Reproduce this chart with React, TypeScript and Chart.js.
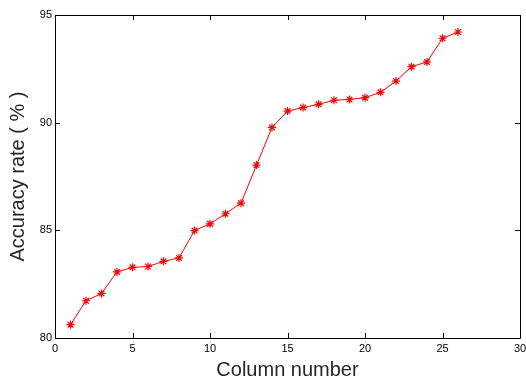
import React, { useEffect, useRef } from "react";
import { Chart, registerables } from "chart.js";

Chart.register(...registerables);

const columns = [1, 2, 3, 4, 5, 6, 7, 8, 9, 10, 11, 12, 13, 14, 15, 16, 17, 18, 19, 20, 21, 22, 23, 24, 25, 26];
const accuracy = [80.62, 81.73, 82.07, 83.07, 83.28, 83.32, 83.56, 83.72, 84.99, 85.3, 85.77, 86.26, 88.03, 89.78, 90.54, 90.7, 90.85, 91.04, 91.08, 91.16, 91.41, 91.93, 92.6, 92.82, 93.92, 94.21];
const xTicks = [0, 5, 10, 15, 20, 25, 30];
const yTicks = [80, 85, 90, 95];

const boxPlugin = {
  id: "boxTicks",
  afterDraw(chart: any) {
    const { ctx, chartArea } = chart;
    const { left, right, top, bottom } = chartArea;
    const xs = chart.scales.x;
    const ys = chart.scales.y;
    const len = 5;
    ctx.save();
    ctx.strokeStyle = "#000";
    ctx.lineWidth = 1;
    ctx.beginPath();
    ctx.rect(Math.round(left) + 0.5, Math.round(top) + 0.5, Math.round(right - left), Math.round(bottom - top));
    for (const v of xTicks) {
      const px = Math.round(xs.getPixelForValue(v)) + 0.5;
      ctx.moveTo(px, bottom);
      ctx.lineTo(px, bottom - len);
      ctx.moveTo(px, top);
      ctx.lineTo(px, top + len);
    }
    for (const v of yTicks) {
      const py = Math.round(ys.getPixelForValue(v)) + 0.5;
      ctx.moveTo(left, py);
      ctx.lineTo(left + len, py);
      ctx.moveTo(right, py);
      ctx.lineTo(right - len, py);
    }
    ctx.stroke();
    ctx.restore();
  },
};

export default function App() {
  const ref = useRef<HTMLCanvasElement | null>(null);
  useEffect(() => {
    if (!ref.current) return;
    const chart = new Chart(ref.current, {
      type: "scatter",
      data: {
        datasets: [
          {
            data: columns.map((c, i) => ({ x: c, y: accuracy[i] })),
            showLine: true,
            borderColor: "#ff0000",
            backgroundColor: "#ff0000",
            borderWidth: 1,
            pointStyle: "star",
            pointRadius: 4,
            pointBorderWidth: 1.2,
            pointBorderColor: "#ff0000",
          },
        ],
      },
      options: {
        animation: false,
        responsive: false,
        maintainAspectRatio: false,
        layout: { padding: { top: 15, right: 6, left: 0, bottom: 0 } },
        plugins: { legend: { display: false }, tooltip: { enabled: false } },
        scales: {
          x: {
            type: "linear",
            min: 0,
            max: 30,
            afterBuildTicks: (s: any) => { s.ticks = xTicks.map((v) => ({ value: v })); },
            grid: { display: false, drawTicks: false },
            border: { display: false },
            ticks: { color: "#000", font: { family: "Liberation Sans, Arial", size: 11 }, padding: 4, maxRotation: 0 },
            title: { display: true, text: "Column number", color: "#262626", font: { family: "Liberation Sans, Arial", size: 20, lineHeight: 1 }, padding: { top: 0, bottom: -1 } },
            afterFit: (s: any) => { s.height = 41; s.paddingLeft = 0; s.paddingRight = 0; },
          },
          y: {
            type: "linear",
            min: 80,
            max: 95,
            afterBuildTicks: (s: any) => { s.ticks = yTicks.map((v) => ({ value: v })); },
            grid: { display: false, drawTicks: false },
            border: { display: false },
            ticks: { color: "#000", font: { family: "Liberation Sans, Arial", size: 11 }, padding: 3 },
            title: { display: true, text: "Accuracy rate ( % )", color: "#262626", font: { family: "Liberation Sans, Arial", size: 20 }, padding: { top: 6, bottom: 0 } },
            afterFit: (s: any) => { s.width = 55; s.paddingTop = 0; s.paddingBottom = 0; },
          },
        },
      },
      plugins: [boxPlugin],
    });
    return () => chart.destroy();
  }, []);
  return (
    <div style={{ position: "fixed", left: 0, top: 0, width: 526, height: 379, background: "#fff" }}>
      <canvas ref={ref} width={526} height={379} style={{ display: "block" }} />
    </div>
  );
}
